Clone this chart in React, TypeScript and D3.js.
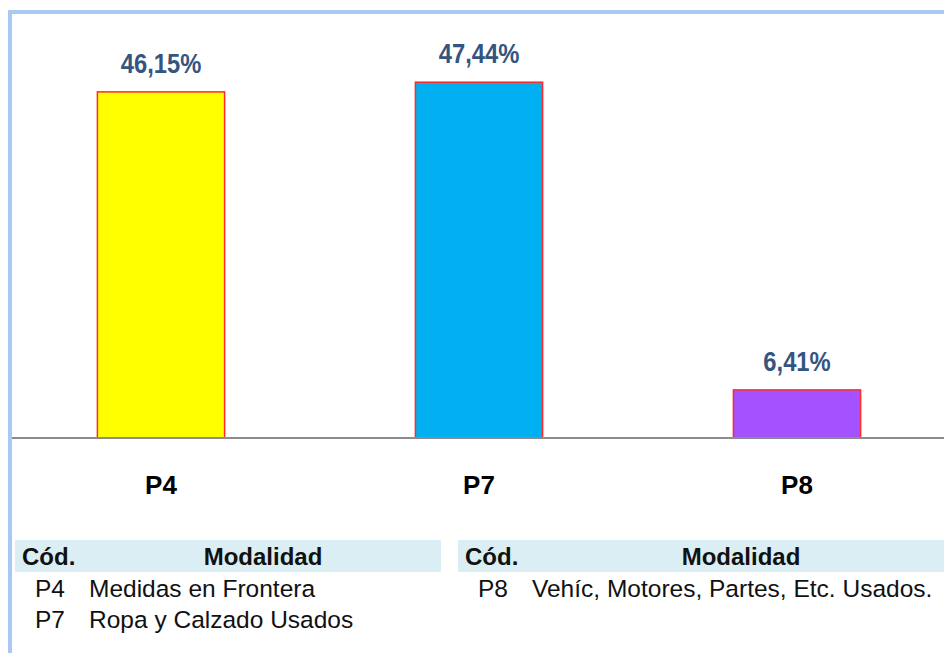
import React from 'react';
import * as d3 from 'd3';

// chart data
const codes = ['P4', 'P7', 'P8'];
const shares = [46.15, 47.44, 6.41];
const shareLabels = ['46,15%', '47,44%', '6,41%'];
const barColors = ['#ffff00', '#00b0f0', '#a452ff'];

// legend tables
const leftRows = [
  { cod: 'P4', name: 'Medidas en Frontera' },
  { cod: 'P7', name: 'Ropa y Calzado Usados' },
];
const rightRows = [{ cod: 'P8', name: 'Vehíc, Motores, Partes, Etc. Usados.' }];

const W = 944;
const H = 653;
const baseY = 438;

const font = "'Liberation Sans', Arial, sans-serif";

const App = () => {
  const x = d3
    .scaleBand<string>()
    .domain(codes)
    .range([2, 956])
    .paddingInner(0.6)
    .paddingOuter(0.3);

  const y = d3.scaleLinear().domain([0, 50]).range([baseY, 63]);

  const table = (rows: { cod: string; name: string }[], x0: number, x1: number, midX: number) => (
    <g>
      <rect x={x0} y={540} width={x1 - x0} height={32} fill="#daeef3" />
      <text x={x0 + 7} y={565} fontSize={24} fontWeight="bold" fill="#111">
        Cód.
      </text>
      <text x={midX} y={565} fontSize={24} fontWeight="bold" fill="#111" textAnchor="middle">
        Modalidad
      </text>
      {rows.map((r, i) => (
        <g key={r.cod}>
          <text x={x0 + 20} y={597 + i * 31} fontSize={24.5} fill="#111">
            {r.cod}
          </text>
          <text x={x0 + 74} y={597 + i * 31} fontSize={24.5} fill="#111">
            {r.name}
          </text>
        </g>
      ))}
    </g>
  );

  return (
    <svg
      width={W}
      height={H}
      style={{ position: 'absolute', left: 0, top: 0, background: '#fff' }}
      fontFamily={font}
    >
      {/* frame */}
      <rect x={10} y={12} width={W + 20} height={H + 20} fill="#fff" stroke="#a9c9f2" strokeWidth={4} />

      {/* bars */}
      {codes.map((c, i) => (
        <rect
          key={c}
          x={x(c)}
          y={y(shares[i])}
          width={x.bandwidth()}
          height={baseY - y(shares[i])}
          fill={barColors[i]}
          stroke="#ff2a2a"
          strokeWidth={1.5}
        />
      ))}

      {/* baseline */}
      <line x1={12} x2={W} y1={baseY} y2={baseY} stroke="#8c8c8c" strokeWidth={2} />

      {/* value labels */}
      {codes.map((c, i) => (
        <text
          key={c}
          transform={`translate(${(x(c) as number) + x.bandwidth() / 2},${y(shares[i]) - 19}) scale(0.88,1)`}
          textAnchor="middle"
          fontSize={27}
          fontWeight="bold"
          fill="#35557f"
        >
          {shareLabels[i]}
        </text>
      ))}

      {/* category labels */}
      {codes.map(c => (
        <text
          key={c}
          x={(x(c) as number) + x.bandwidth() / 2}
          y={494}
          textAnchor="middle"
          fontSize={26}
          fontWeight="bold"
          fill="#000"
        >
          {c}
        </text>
      ))}

      {table(leftRows, 15, 441, 263)}
      {table(rightRows, 458, W, 741)}
    </svg>
  );
};

export default App;
